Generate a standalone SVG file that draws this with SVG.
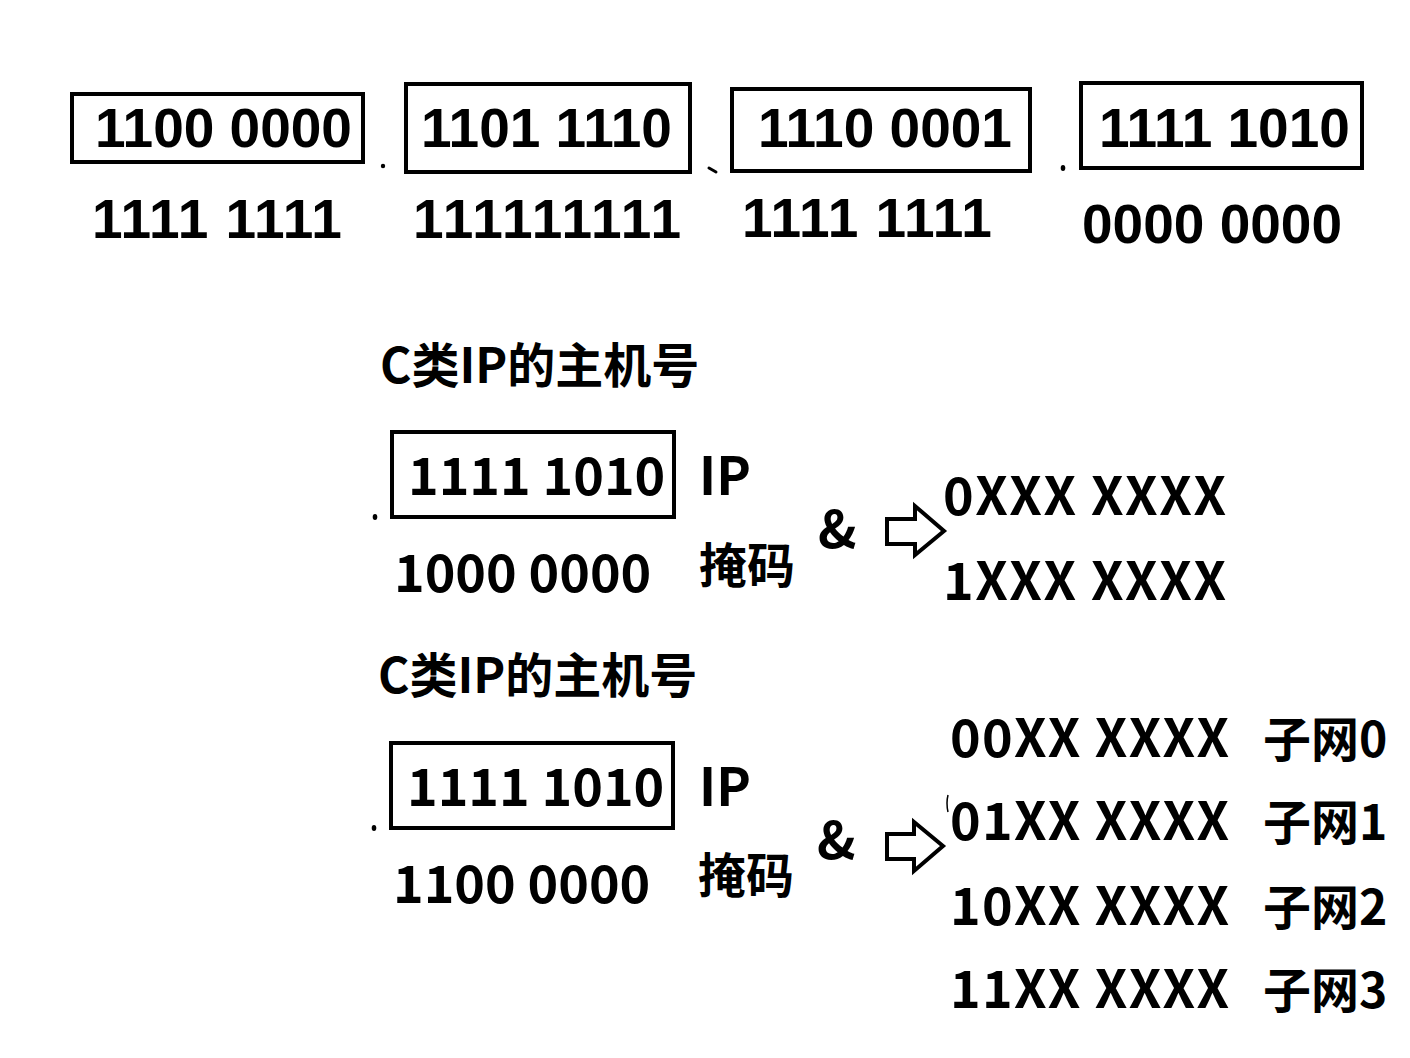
<svg xmlns="http://www.w3.org/2000/svg" width="1410" height="1058" viewBox="0 0 1410 1058">
<style>
.box{fill:none;stroke:#000;stroke-width:4}
.a{font-family:"Liberation Sans",Arial,sans-serif;font-weight:bold;font-size:55px;fill:#000}
.w{letter-spacing:1px}
.c{font-family:"Noto Sans CJK SC","Noto Sans",sans-serif;font-weight:bold;font-size:52px;fill:#000}
.s{font-family:"Noto Sans CJK SC","Noto Sans",sans-serif;font-weight:bold;font-size:48px;fill:#000}
.h{font-family:"Noto Sans CJK SC","Noto Sans",sans-serif;font-weight:bold;font-size:48px;fill:#000}
.arr{fill:#fff;stroke:#000;stroke-width:4;stroke-linejoin:miter}
.mk{fill:#000}
</style>
<rect width="1410" height="1058" fill="#fff"/>
<g id="octet1">
<rect class="box" x="72" y="94" width="291" height="68"/>
<text class="a" x="95" y="147">1100 0000</text>
<text class="a w" x="92" y="238">1111 1111</text>
</g>
<g id="octet2">
<rect class="box" x="406" y="84" width="284" height="88"/>
<text class="a" x="421" y="147">1101 1110</text>
<text class="a" x="413" y="238" textLength="268" lengthAdjust="spacing">111111111</text>
</g>
<g id="octet3">
<rect class="box" x="732" y="89" width="298" height="82"/>
<text class="a" x="758" y="147">1110 0001</text>
<text class="a w" x="742" y="237">1111 1111</text>
</g>
<g id="octet4">
<rect class="box" x="1081" y="83" width="281" height="85"/>
<text class="a" x="1099" y="147">1111 1010</text>
<text class="a" x="1082" y="243">0000 0000</text>
</g>
<g id="marks">
<circle class="mk" cx="383" cy="166" r="2.2"/>
<path d="M709 168 L716 172" stroke="#000" stroke-width="3" stroke-linecap="round"/>
<ellipse class="mk" cx="1063" cy="168" rx="2.3" ry="3"/>
<ellipse class="mk" cx="375" cy="517" rx="2.3" ry="3"/>
<ellipse class="mk" cx="374" cy="828" rx="2.3" ry="3"/>
<path d="M948 795 Q946 803 948 812" fill="none" stroke="#000" stroke-width="1.5"/>
</g>
<g id="section1">
<text class="h" x="380" y="383">C类IP的主机号</text>
<rect class="box" x="392" y="432" width="282" height="85"/>
<text class="c" x="408" y="495">1111 1010</text>
<text class="c" x="699" y="495">IP</text>
<text class="s" x="699" y="583">掩码</text>
<text class="c" x="394" y="592">1000 0000</text>
<text class="c" x="818" y="548">&amp;</text>
<text class="c" x="943" y="515" textLength="283" lengthAdjust="spacing">0XXX XXXX</text>
<text class="c" x="943" y="600" textLength="283" lengthAdjust="spacing">1XXX XXXX</text>
</g>
<g id="section2">
<text class="h" x="378" y="693">C类IP的主机号</text>
<rect class="box" x="391" y="743" width="282" height="85"/>
<text class="c" x="407" y="806">1111 1010</text>
<text class="c" x="699" y="806">IP</text>
<text class="s" x="698" y="893">掩码</text>
<text class="c" x="393" y="903">1100 0000</text>
<text class="c" x="817" y="859">&amp;</text>
<text class="c" x="950" y="757" textLength="279" lengthAdjust="spacing">00XX XXXX</text>
<text class="c" x="950" y="840" textLength="279" lengthAdjust="spacing">01XX XXXX</text>
<text class="c" x="950" y="925" textLength="279" lengthAdjust="spacing">10XX XXXX</text>
<text class="c" x="950" y="1008" textLength="279" lengthAdjust="spacing">11XX XXXX</text>
<text class="s" x="1263" y="757">子网0</text>
<text class="s" x="1263" y="840">子网1</text>
<text class="s" x="1263" y="925">子网2</text>
<text class="s" x="1263" y="1008">子网3</text>
</g>
<g id="connectors">
<path class="arr" d="M887 519 H915 V506 L944 531 L915 555 V544 H887 Z"/>
<path class="arr" d="M887 834 H914 V822 L943 846 L914 871 V859 H887 Z"/>
</g>
</svg>
